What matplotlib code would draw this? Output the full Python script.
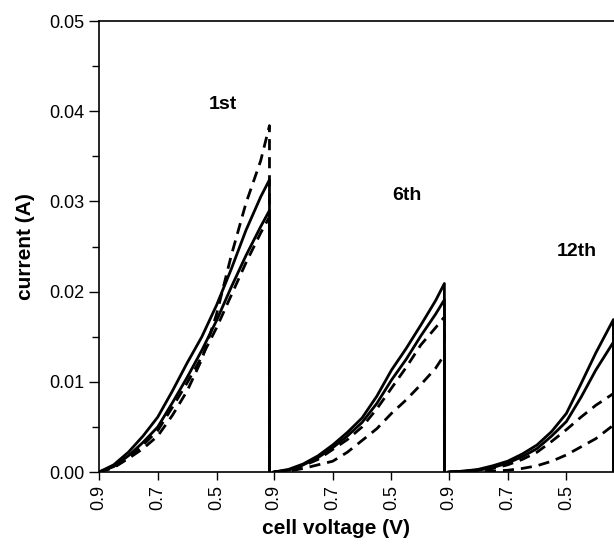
import numpy as np
import matplotlib.pyplot as plt
from matplotlib.ticker import MultipleLocator, FormatStrFormatter

plt.rcParams['font.family'] = ['Liberation Sans', 'DejaVu Sans']

# each sweep runs from 0.9 V down to ~0.32 V; sweeps are drawn side by side
SEG_WIDTH = 0.595

# cycle 1
v1 = [0.90, 0.85, 0.80, 0.75, 0.70, 0.65, 0.60, 0.55, 0.50, 0.45, 0.40, 0.35, 0.32]
c1_solid_a = [0.0, 0.0008, 0.0022, 0.0040, 0.0061, 0.0090, 0.0121, 0.0150, 0.0185, 0.0225, 0.0268, 0.0305, 0.0324]
c1_solid_b = [0.0, 0.0006, 0.0018, 0.0033, 0.0050, 0.0077, 0.0105, 0.0135, 0.0168, 0.0205, 0.0240, 0.0272, 0.0290]
c1_dash_a = [0.0, 0.0005, 0.0015, 0.0026, 0.0040, 0.0063, 0.0090, 0.0125, 0.0175, 0.0240, 0.0298, 0.0345, 0.0384]
c1_dash_b = [0.0, 0.0005, 0.0016, 0.0030, 0.0046, 0.0072, 0.0099, 0.0128, 0.0160, 0.0196, 0.0232, 0.0265, 0.0283]

# cycle 6
v6 = [0.90, 0.85, 0.80, 0.75, 0.70, 0.65, 0.60, 0.55, 0.50, 0.45, 0.40, 0.35, 0.32]
c6_solid_a = [0.0, 0.0003, 0.0009, 0.0018, 0.0030, 0.0044, 0.0060, 0.0084, 0.0113, 0.0137, 0.0163, 0.0190, 0.0209]
c6_solid_b = [0.0, 0.0002, 0.0008, 0.0016, 0.0027, 0.0040, 0.0055, 0.0076, 0.0102, 0.0125, 0.0151, 0.0175, 0.0191]
c6_dash_a = [0.0, 0.0002, 0.0007, 0.0014, 0.0025, 0.0036, 0.0050, 0.0070, 0.0093, 0.0116, 0.0141, 0.0160, 0.0172]
c6_dash_b = [0.0, 0.0001, 0.0004, 0.0008, 0.0012, 0.0022, 0.0035, 0.0048, 0.0065, 0.0080, 0.0097, 0.0115, 0.0130]

# cycle 12 (cut off at the right edge)
v12 = [0.90, 0.85, 0.80, 0.75, 0.70, 0.65, 0.60, 0.55, 0.50, 0.45, 0.40, 0.34]
c12_solid_a = [0.0, 0.0001, 0.0003, 0.0007, 0.0012, 0.0020, 0.0030, 0.0045, 0.0065, 0.0098, 0.0132, 0.0169]
c12_solid_b = [0.0, 0.0001, 0.0002, 0.0005, 0.0010, 0.0017, 0.0026, 0.0040, 0.0056, 0.0083, 0.0113, 0.0144]
c12_dash_a = [0.0, 0.0001, 0.0002, 0.0004, 0.0008, 0.0014, 0.0022, 0.0034, 0.0047, 0.0061, 0.0074, 0.0087]
c12_dash_b = [0.0, 0.0, 0.0, 0.0001, 0.0002, 0.0004, 0.0007, 0.0012, 0.0019, 0.0028, 0.0037, 0.0052]

cycles = [
    (v1, [c1_solid_a, c1_solid_b, c1_dash_a, c1_dash_b], '1st'),
    (v6, [c6_solid_a, c6_solid_b, c6_dash_a, c6_dash_b], '6th'),
    (v12, [c12_solid_a, c12_solid_b, c12_dash_a, c12_dash_b], '12th'),
]
styles = ['-', '-', (0, (4, 2.5)), (0, (4, 2.5))]
label_pos = [(0.422, 0.0407), (1.048, 0.0307), (1.626, 0.0244)]
tick_volts = [0.9, 0.7, 0.5]

fig = plt.figure(figsize=(6.14, 5.47), dpi=100)
ax = fig.add_axes([0.1612, 0.137, 0.8388, 0.8246])

ticks, ticklabels = [], []
for i, (v, series, name) in enumerate(cycles):
    off = i * SEG_WIDTH
    x = off + (0.9 - np.array(v))
    for cur, ls in zip(series, styles):
        xs = np.append(x, x[-1])
        ys = np.append(cur, 0.0)
        ax.plot(xs, ys, color='black', linestyle=ls, linewidth=2.0)
    ax.text(label_pos[i][0], label_pos[i][1], name, ha='center', va='center',
            fontsize=14, fontweight='bold')
    for tv in tick_volts:
        ticks.append(off + 0.9 - tv)
        ticklabels.append(f'{tv:.1f}')

ax.set_xlim(0, 1.752)
ax.set_ylim(0, 0.05)
ax.set_xticks(ticks)
ax.set_xticklabels(ticklabels, rotation=90, fontsize=13)
ax.yaxis.set_major_locator(MultipleLocator(0.01))
ax.yaxis.set_minor_locator(MultipleLocator(0.005))
ax.yaxis.set_major_formatter(FormatStrFormatter('%.2f'))
ax.tick_params(axis='y', which='major', direction='out', length=7, width=1, labelsize=13)
ax.tick_params(axis='y', which='minor', direction='out', length=5, width=1)
ax.tick_params(axis='x', direction='out', length=6, width=1)
ax.spines['right'].set_visible(False)
for s in ['left', 'top', 'bottom']:
    ax.spines[s].set_linewidth(1.2)

ax.set_xlabel('cell voltage (V)', fontsize=15, fontweight='bold')
ax.xaxis.set_label_coords(0.46, -0.105)
ax.set_ylabel('current (A)', fontsize=15, fontweight='bold')
ax.yaxis.set_label_coords(-0.125, 0.5)

fig.savefig('out.png', dpi=100)
